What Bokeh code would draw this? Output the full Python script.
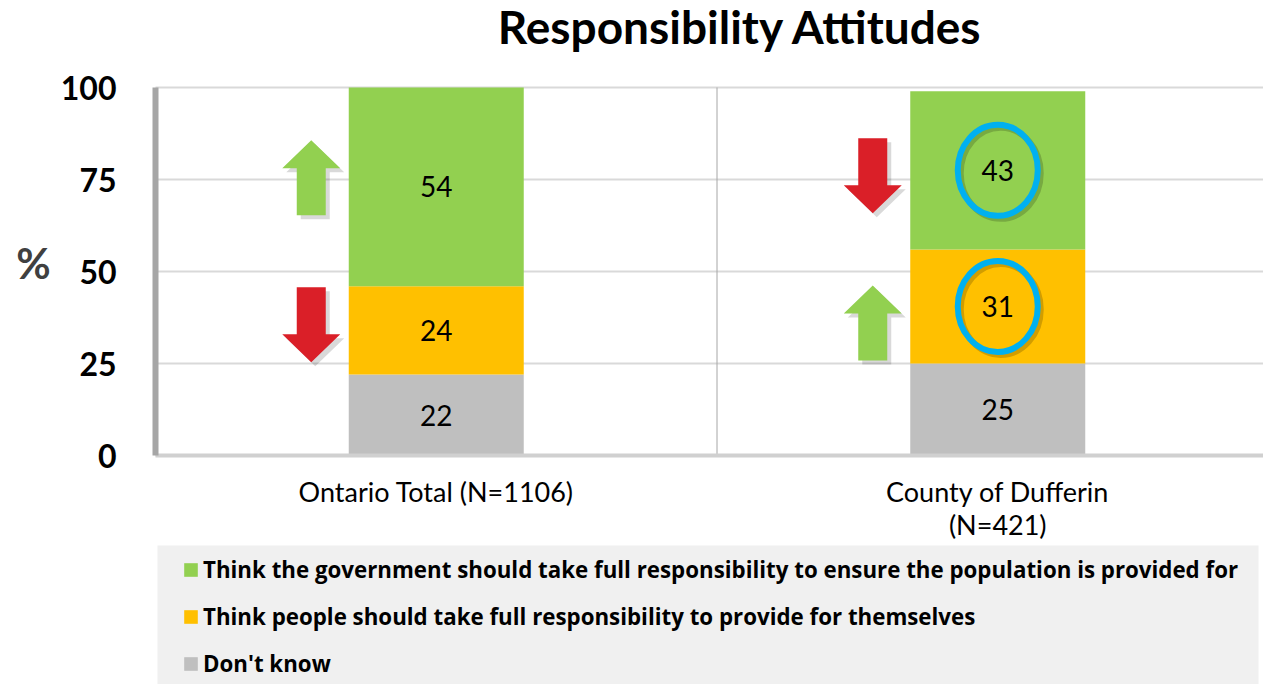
from bokeh.plotting import figure
from bokeh.models import (Range1d, FixedTicker, ColumnDataSource, LabelSet, Label,
                          Legend, LegendItem, BoxAnnotation)
from bokeh.core.properties import value
from bokeh.embed import file_html
from bokeh.resources import INLINE

# ---------------- data ----------------
title = "Responsibility Attitudes"
y_title = "%"
categories = ["Ontario Total (N=1106)", "County of Dufferin\n(N=421)"]
series_keys = ["dont_know", "people", "government"]          # stacking order, bottom -> top
series_labels = {
    "government": "Think the government should take full responsibility to ensure the population is provided for",
    "people": "Think people should take full responsibility to provide for themselves",
    "dont_know": "Don't know",
}
dont_know = [22, 25]
people = [24, 31]
government = [54, 43]
y_ticks = [0, 25, 50, 75, 100]

# highlighted (circled) segments: (category index, series key)
highlight_cat = [1, 1]
highlight_series = ["government", "people"]

# change arrows beside the bars
arrow_cat = [0, 0, 1, 1]
arrow_y = [75.5, 35.5, 76.0, 36.0]
arrow_dir = ["up", "down", "down", "up"]

# ---------------- style / layout ----------------
colors = {"government": "#92d050", "people": "#ffc000", "dont_know": "#bfbfbf"}
arrow_colors = {"up": "#92d050", "down": "#da1f28"}
FONT = "Lato"
LEG_FONT = "Open Sans"

W, H = 1263, 684
PL = 155                     # pixel column of the plot wall (x = 0)
Y100, Y0 = 87, 455           # pixel rows of the 100 and 0 levels
PPU = (Y0 - Y100) / 100.0    # px per y unit
CAT_PX = 561.5               # px per category band
BAR_W = 175 / CAT_PX
px_x = 1.0 / CAT_PX          # x data units per px
px_y = 1.0 / PPU             # y data units per px
x_start = -PL / CAT_PX
x_end = (W - PL) / CAT_PX

x_pos = [i + 0.5 for i in range(len(categories))]
data = {"x": x_pos, "dont_know": dont_know, "people": people, "government": government}
source = ColumnDataSource(data)

p = figure(width=W, height=H, output_backend="svg", toolbar_location=None,
           x_range=Range1d(x_start, x_end),
           y_range=Range1d(-(H - Y0) / PPU, 100 + Y100 / PPU),
           min_border=0, outline_line_color=None,
           background_fill_color="white", border_fill_color="white")
p.grid.visible = False

# title and y-axis title (screen positions measured from the frame's bottom-left)
p.add_layout(Label(x=740, y=H - 26, x_units="screen", y_units="screen", text=title,
                   text_align="center", text_baseline="middle", text_font=FONT,
                   text_font_style="bold", text_font_size="46px", text_color="#000000"))
p.add_layout(Label(x=33, y=H - 262, x_units="screen", y_units="screen", text=y_title,
                   text_align="center", text_baseline="middle", text_font=FONT,
                   text_font_style="bold", text_font_size="42px", text_color="#404040"))

# horizontal grid lines (plot area only)
p.segment(x0=[0] * len(y_ticks), y0=y_ticks, x1=[x_end] * len(y_ticks), y1=y_ticks,
          line_color="#d9d9d9", line_width=2)
# category separators
sep_x = list(range(1, len(categories)))
p.segment(x0=sep_x, y0=[y_ticks[0]] * len(sep_x), x1=sep_x, y1=[y_ticks[-1]] * len(sep_x),
          line_color="#a6a6a6", line_width=1)

renderers = p.vbar_stack(series_keys, x="x", width=BAR_W, color=[colors[k] for k in series_keys],
                         line_color=None, source=source)
rmap = dict(zip(series_keys, renderers))

# value labels
lx, ly, lt = [], [], []
centers = {}
for ci in range(len(categories)):
    base = 0
    for k in series_keys:
        v = data[k][ci]
        lx.append(x_pos[ci]); ly.append(base + v / 2); lt.append(str(v))
        centers[(ci, k)] = (x_pos[ci], base + v / 2)
        base += v

# circles around highlighted values (with soft shadow)
hx = [centers[(c, k)][0] for c, k in zip(highlight_cat, highlight_series)]
hy = [centers[(c, k)][1] for c, k in zip(highlight_cat, highlight_series)]
p.ellipse(x=[v + 3 * px_x for v in hx], y=[v - 3 * px_y for v in hy], width=80, height=91,
          width_units="screen", height_units="screen", fill_color=None,
          line_color="#000000", line_alpha=0.18, line_width=6)
p.ellipse(x=hx, y=hy, width=80, height=91, width_units="screen", height_units="screen",
          fill_color=None, line_color="#00b0f0", line_width=6)

lab_src = ColumnDataSource(dict(x=lx, y=ly, t=lt))
p.add_layout(LabelSet(x="x", y="y", text="t", source=lab_src, text_align="center",
                      text_baseline="middle", text_font=value(FONT), text_font_size="28px",
                      text_color="#000000"))

# arrows
AH, HH, HW, SW = 75, 28, 58, 29      # total height, head height, head width, shaft width (px)
ARROW_DX = -125                      # px offset from bar centre


def arrow_shape(cx, cy, d, ox=0.0, oy=0.0):
    s = 1 if d == "up" else -1
    pts = [(0, AH / 2), (HW / 2, AH / 2 - HH), (SW / 2, AH / 2 - HH), (SW / 2, -AH / 2),
           (-SW / 2, -AH / 2), (-SW / 2, AH / 2 - HH), (-HW / 2, AH / 2 - HH)]
    xs = [cx + (px + ox) * px_x for px, py in pts]
    ys = [cy + (s * py - oy) * px_y for px, py in pts]
    return xs, ys


axs, ays, sxs, sys_, acol = [], [], [], [], []
for c, yv, d in zip(arrow_cat, arrow_y, arrow_dir):
    cx = x_pos[c] + ARROW_DX * px_x
    xs, ys = arrow_shape(cx, yv, d)
    axs.append(xs); ays.append(ys); acol.append(arrow_colors[d])
    xs, ys = arrow_shape(cx, yv, d, 4, 4)
    sxs.append(xs); sys_.append(ys)
p.patches(sxs, sys_, fill_color="#000000", fill_alpha=0.15, line_color=None)
p.patches(axs, ays, fill_color=acol, line_color=None)

# y axis, pinned at x = 0 (the wall)
p.yaxis.fixed_location = 0
p.yaxis.ticker = FixedTicker(ticks=y_ticks)
p.yaxis.bounds = (y_ticks[0], y_ticks[-1])
p.yaxis.major_label_text_font = FONT
p.yaxis.major_label_text_font_style = "bold"
p.yaxis.major_label_text_font_size = "32px"
p.yaxis.major_label_text_color = "#000000"
p.yaxis.major_tick_line_color = None
p.yaxis.minor_tick_line_color = None
p.yaxis.major_label_standoff = 33
p.yaxis.axis_line_color = "#a6a6a6"
p.yaxis.axis_line_width = 6

# x axis, pinned at the zero level
p.xaxis.fixed_location = y_ticks[0]
p.xaxis.ticker = FixedTicker(ticks=x_pos)
p.xaxis.bounds = (0, x_end)
p.xaxis.major_label_overrides = {x: c for x, c in zip(x_pos, categories)}
p.xaxis.major_label_text_font = FONT
p.xaxis.major_label_text_font_size = "27px"
p.xaxis.major_label_text_line_height = 1.0
p.xaxis.major_label_text_color = "#000000"
p.xaxis.major_tick_line_color = None
p.xaxis.minor_tick_line_color = None
p.xaxis.major_label_standoff = 13
p.xaxis.axis_line_color = "#d0d0d0"
p.xaxis.axis_line_width = 4

# legend box + legend
LEG_TOP, LEG_L, LEG_R = 545, 157, 1258
p.add_layout(BoxAnnotation(left=LEG_L, right=LEG_R, bottom=0, top=H - LEG_TOP,
                           left_units="screen", right_units="screen",
                           bottom_units="screen", top_units="screen",
                           fill_color="#f0f0f0", fill_alpha=1.0, line_color=None))
legend_order = ["government", "people", "dont_know"]
legend = Legend(items=[LegendItem(label=series_labels[k], renderers=[rmap[k]]) for k in legend_order],
                location=(182, 5), orientation="vertical",
                background_fill_alpha=0.0, border_line_color=None, padding=0, margin=0,
                spacing=16, glyph_width=17, glyph_height=17, label_height=29,
                label_standoff=4, label_text_font=LEG_FONT, label_text_font_style="bold",
                label_text_font_size="22.3px", label_text_color="#000000")
p.add_layout(legend, "center")

open("out.html", "w").write(file_html(p, INLINE))
